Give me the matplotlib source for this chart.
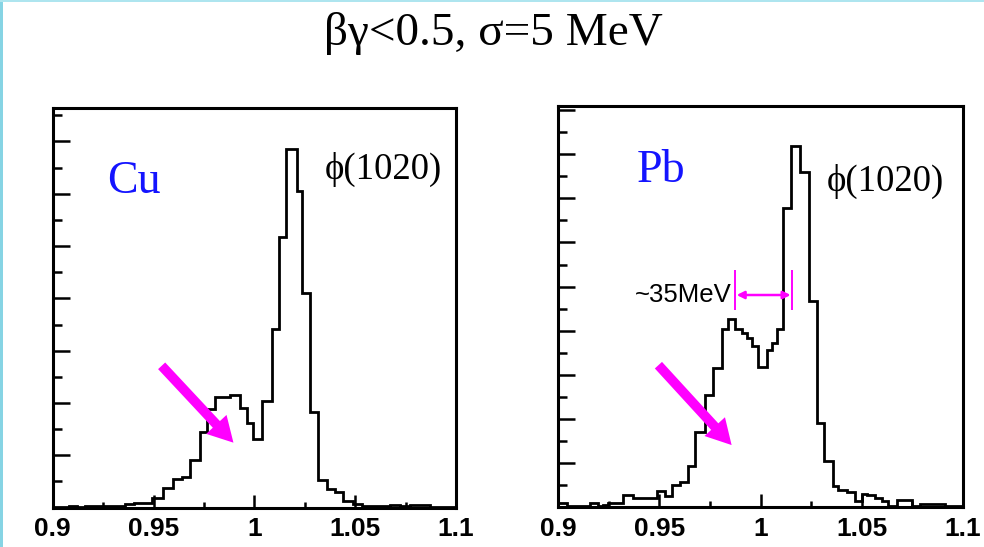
import matplotlib
matplotlib.use("Agg")
import matplotlib.pyplot as plt
from matplotlib.ticker import MultipleLocator, FixedLocator, FixedFormatter
from matplotlib.patches import Rectangle

# ---------------- data ----------------
title_text = "βγ<0.5, σ=5 MeV"

cu_edges = [0.9000, 0.9080, 0.9121, 0.9162, 0.9253, 0.9360, 0.9401, 0.9492, 0.9549,
            0.9598, 0.9640, 0.9681, 0.9731, 0.9764, 0.9805, 0.9879, 0.9929, 0.9962,
            0.9995, 1.0036, 1.0086, 1.0124, 1.0157, 1.0210, 1.0235, 1.0276, 1.0317,
            1.0359, 1.0400, 1.0441, 1.0491, 1.0532, 1.0574, 1.0623, 1.0673, 1.0722,
            1.0772, 1.0821, 1.0871, 1.1000]
cu_counts = [1, 3, 1, 3, 3, 6, 8, 19, 38, 54, 59, 90, 145, 189, 212, 215, 191, 162,
             131, 204, 341, 518, 686, 606, 411, 182, 52, 36, 29, 13, 6, 3, 2, 3, 5,
             3, 5, 4, 1]

pb_edges = [0.9000, 0.9041, 0.9157, 0.9198, 0.9223, 0.9247, 0.9322, 0.9371, 0.9486,
            0.9528, 0.9561, 0.9603, 0.9643, 0.9676, 0.9725, 0.9767, 0.9808, 0.9841,
            0.9874, 0.9907, 0.9932, 0.9956, 0.9989, 1.0031, 1.0055, 1.0083, 1.0113,
            1.0149, 1.0195, 1.0242, 1.0278, 1.0314, 1.0360, 1.0385, 1.0426, 1.0467,
            1.0500, 1.0525, 1.0566, 1.0599, 1.0632, 1.0674, 1.0748, 1.0789, 1.0913,
            1.1000]
pb_counts = [9, 2, 9, 2, 6, 9, 28, 21, 38, 26, 51, 57, 93, 171, 255, 316, 404, 427,
             404, 394, 384, 365, 319, 357, 372, 403, 678, 819, 759, 467, 190, 104,
             48, 40, 34, 15, 30, 28, 20, 15, 4, 17, 4, 8, 2]

xtick_values = [0.9, 0.95, 1.0, 1.05, 1.1]
xtick_labels = ["0.9", "0.95", "1", "1.05", "1.1"]

panel_labels = ["Cu", "Pb"]
peak_label = "ϕ(1020)"
y_max = [764, 910]

# arrows pointing at the low-mass shoulder: (tail x, tail y, head x, head y)
cu_arrow = [0.9540, 271, 0.9896, 124]
pb_arrow = [0.9495, 322, 0.9857, 141]

# ~35 MeV width marker in Pb panel
width_marks_x = [0.9874, 1.0157]
width_marks_y = [447, 538]
width_arrow_y = 481
width_label = "~35MeV"

# ---------------- figure ----------------
MAG = "#ff00ff"
SERIF = ["Liberation Serif", "DejaVu Serif"]
SANS = ["Liberation Sans", "DejaVu Sans"]

fig = plt.figure(figsize=(9.84, 5.47), dpi=100)
fig.patch.set_facecolor("white")

# light cyan frame on left / top of the slide
fig.add_artist(Rectangle((0, 0), 3.0 / 984, 1, transform=fig.transFigure,
                         color="#86d4e4", lw=0))
fig.add_artist(Rectangle((0, 1 - 2.0 / 547), 1, 2.0 / 547, transform=fig.transFigure,
                         color="#aee5ef", lw=0))

fig.text(0.501, 0.9177, title_text, ha="center", va="baseline",
         fontsize=34, family=SERIF)

ax1 = fig.add_axes([0.0536, 0.0722, 0.4099, 0.7303])
ax2 = fig.add_axes([0.5674, 0.0726, 0.4110, 0.7342])


def style(ax, ymax):
    ax.set_xlim(0.9, 1.1)
    ax.set_ylim(0, ymax)
    for s in ax.spines.values():
        s.set_linewidth(2.2)
    ax.xaxis.set_major_locator(FixedLocator(xtick_values))
    ax.xaxis.set_major_formatter(FixedFormatter(xtick_labels))
    ax.xaxis.set_minor_locator(MultipleLocator(0.025))
    ax.yaxis.set_major_locator(MultipleLocator(100))
    ax.yaxis.set_minor_locator(MultipleLocator(50))
    ax.tick_params(axis="x", which="major", direction="in", length=9.5, width=1.8,
                   top=False, labelsize=19, pad=7)
    ax.tick_params(axis="x", which="minor", direction="in", length=4.5, width=1.8,
                   top=False)
    ax.tick_params(axis="y", which="major", direction="in", length=12.5, width=1.8,
                   right=False, labelleft=False)
    ax.tick_params(axis="y", which="minor", direction="in", length=6.5, width=1.8,
                   right=False)
    for lab in ax.get_xticklabels():
        lab.set_fontweight("bold")
        lab.set_family(SANS)


style(ax1, y_max[0])
style(ax2, y_max[1])

ax1.stairs(cu_counts, cu_edges, color="black", lw=2.0, baseline=0)
ax2.stairs(pb_counts, pb_edges, color="black", lw=2.0, baseline=0)

# panel labels
ax1.text(0.135, 0.787, panel_labels[0], transform=ax1.transAxes, ha="left",
         va="baseline", fontsize=33, color="#1414ff", family=SERIF)
ax2.text(0.194, 0.811, panel_labels[1], transform=ax2.transAxes, ha="left",
         va="baseline", fontsize=33, color="#1414ff", family=SERIF)
ax1.text(0.675, 0.822, peak_label, transform=ax1.transAxes, ha="left",
         va="baseline", fontsize=26.5, color="black", family=SERIF)
ax2.text(0.664, 0.788, peak_label, transform=ax2.transAxes, ha="left",
         va="baseline", fontsize=26.5, color="black", family=SERIF)

# magenta arrows
for ax, arr in ((ax1, cu_arrow), (ax2, pb_arrow)):
    ax.annotate("", xy=(arr[2], arr[3]), xytext=(arr[0], arr[1]),
                arrowprops=dict(arrowstyle="simple,head_length=1.8,head_width=2.0,tail_width=0.7",
                                color=MAG, lw=0, shrinkA=0, shrinkB=0,
                                mutation_scale=10))

# width marker
ax2.vlines(width_marks_x, width_marks_y[0], width_marks_y[1], color=MAG, lw=1.4)
ax2.annotate("", xy=(width_marks_x[1] - 0.0008, width_arrow_y),
             xytext=(width_marks_x[0] + 0.0008, width_arrow_y),
             arrowprops=dict(arrowstyle="<|-|>", color=MAG, lw=1.8, shrinkA=0,
                             shrinkB=0, mutation_scale=11))
ax2.text(width_marks_x[0] - 0.0015, width_arrow_y, width_label, ha="right",
         va="center", fontsize=18.5, family=SANS, color="black")

fig.savefig("out.png", dpi=100, facecolor="white")
